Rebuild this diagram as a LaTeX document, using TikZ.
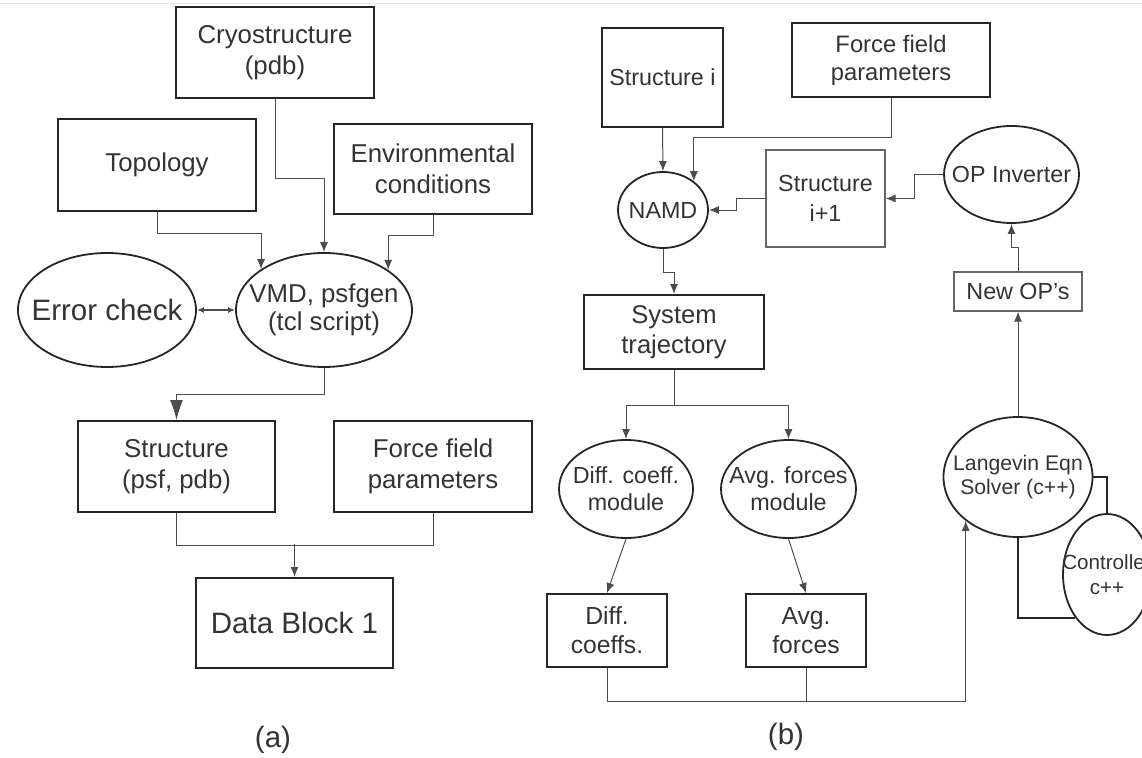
\documentclass[tikz,border=0pt]{standalone}
\usepackage{fontspec}
\setmainfont{Liberation Sans}
\usetikzlibrary{shapes.geometric,arrows.meta}
\newcommand{\zw}[1]{\makebox[0pt][c]{#1}}

\begin{document}
\begin{tikzpicture}[x=1pt, y=-1pt,
  box/.style={rectangle, draw=black!85, line width=2pt, inner sep=0pt, align=center, text=black!80},
  thinbox/.style={box, draw=black!60, line width=1.2pt},
  oval/.style={ellipse, draw=black!85, line width=1.8pt, inner sep=0pt, align=center, text=black!80},
  conn/.style={draw=black!70, line width=1pt},
  arr/.style={conn, -{Latex[length=10pt, width=8pt]}},
  bigarr/.style={conn, -{Latex[length=20pt, width=13pt]}},
  twoarr/.style={conn, line width=1.4pt, {Latex[length=7pt, width=6pt]}-{Latex[length=7pt, width=6pt]}},
  ctrlline/.style={draw=black!85, line width=2.2pt},
  fbig/.style={font=\fontsize{29.5}{34}\selectfont},
  fleft/.style={font=\fontsize{25.8}{31}\selectfont},
  fright/.style={font=\fontsize{23.3}{30}\selectfont},
  fsmall/.style={font=\fontsize{21.2}{24.5}\selectfont}]

  \path[use as bounding box, clip] (0,0) rectangle (1142,757);
  \draw[black!10, line width=1pt] (0,4) -- (1142,4);

  % (a)
  \node[box, fleft, minimum width=198pt, minimum height=91pt] (cryo) at (275,52.5) {Cryostructure\\(pdb)};
  \node[box, fleft, minimum width=198pt, minimum height=92pt] (topo) at (157,165) {Topology};
  \node[box, fleft, minimum width=198pt, minimum height=90pt] (env) at (433,169) {Environmental\\conditions};
  \node[oval, fleft, font=\fontsize{25.8}{28}\selectfont, minimum width=176pt, minimum height=114pt] (vmd) at (324,310) {\zw{VMD, psfgen}\\\zw{(tcl script)}};
  \node[oval, fbig, minimum width=178pt, minimum height=114pt] (err) at (107,310) {\zw{Error check}};
  \node[box, fleft, minimum width=197pt, minimum height=91pt] (struct) at (176.5,466.5) {Structure\\(psf, pdb)};
  \node[box, fleft, minimum width=198pt, minimum height=91pt] (ffl) at (433,466.5) {Force field\\parameters};
  \node[box, fbig, minimum width=197pt, minimum height=90pt] (data) at (294.5,623) {Data Block 1};
  \node[fbig, text=black!80] (laba) at (273,740) {(a)};

  \draw[arr] (cryo.south) -- ++(0,79) -| (vmd.north);
  \draw[arr] (topo.south) -- ++(0,21) -| (vmd.147);
  \draw[arr] (env.south) -- ++(0,20) -| (vmd.32);
  \draw[twoarr] (err.east) -- (vmd.west);
  \draw[bigarr] (vmd.south) -- ++(0,27) -| (struct.north);
  \draw[conn] (struct.south) -- ++(0,32) -| (ffl.south);
  \coordinate (joina) at (294.5,544);
  \draw[arr] (joina) -- (data.north);

  % (b)
  \node[box, fright, minimum width=121pt, minimum height=99pt] (stri) at (662.5,77.5) {Structure i};
  \node[box, fright, font=\fontsize{23.8}{28}\selectfont, minimum width=198pt, minimum height=74pt] (ffr) at (891,60) {Force field\\parameters};
  \node[oval, fright, minimum width=90pt, minimum height=76pt] (namd) at (663,210) {\zw{NAMD}};
  \node[thinbox, fright, minimum width=119pt, minimum height=97pt] (strn) at (825.5,198.5) {Structure\\i+1};
  \node[oval, fright, minimum width=135pt, minimum height=97pt] (opinv) at (1011.5,174.5) {\zw{OP Inverter}};
  \node[thinbox, fright, minimum width=128pt, minimum height=39pt] (newop) at (1018,291.5) {New OP{\char"0027}s};
  \node[box, fleft, font=\fontsize{25.6}{30}\selectfont, minimum width=180pt, minimum height=74pt] (systr) at (674,332) {System\\trajectory};
  \node[oval, fright, font=\fontsize{23.3}{26.7}\selectfont, minimum width=134pt, minimum height=98pt] (diffm) at (626,489) {\zw{Diff. coeff.}\\\zw{module}};
  \node[oval, fright, font=\fontsize{23.3}{26.7}\selectfont, minimum width=135pt, minimum height=98pt] (avgm) at (788.5,489) {\zw{Avg. forces}\\\zw{module}};
  \node[box, font=\fontsize{24.7}{29}\selectfont, minimum width=120pt, minimum height=73pt] (diffc) at (607,630.5) {Diff.\\coeffs.};
  \node[box, font=\fontsize{24.7}{29}\selectfont, minimum width=120pt, minimum height=73pt] (avgf) at (806,630.5) {Avg.\\forces};
  \node[oval, fsmall, minimum width=149pt, minimum height=120pt] (lang) at (1018,477) {\zw{Langevin Eqn}\\\zw{Solver (c++)}};
  \node[oval, font=\fontsize{20.6}{25}\selectfont, minimum width=88pt, minimum height=121pt] (ctrl) at (1107,574.5) {\zw{Controller}\\\zw{c++}};
  \node[fbig, text=black!80] (labb) at (786,737) {(b)};

  \draw[arr] (stri.south) -- (namd.north);
  \draw[arr] (ffr.south) -- ++(0,39) -| (namd.43);
  \draw[arr] (strn.west) -- ++(-29,0) |- (namd.east);
  \draw[arr] (opinv.west) -- ++(-29,0) |- (strn.east);
  \draw[arr] (newop.north) -- ++(0,-24) -| (opinv.south);
  \draw[arr] (lang.north) -- (newop.south);
  \draw[arr] (namd.south) -- ++(0,24) -| (systr.north);
  \draw[conn] (systr.south) -- ++(0,35) coordinate (splitb);
  \draw[arr] (splitb) -| (diffm.north);
  \draw[arr] (splitb) -| (avgm.north);
  \draw[arr] (diffm.south) -- (diffc.north);
  \draw[arr] (avgm.south) -- (avgf.north);
  \draw[arr] (diffc.south) -- ++(0,33) -| (lang.220);
  \draw[conn] (avgf.south) -- ++(0,33);
  \draw[ctrlline] (lang.east) -| (ctrl.north);
  \draw[ctrlline] (lang.south) |- (ctrl.234);
\end{tikzpicture}
\end{document}
